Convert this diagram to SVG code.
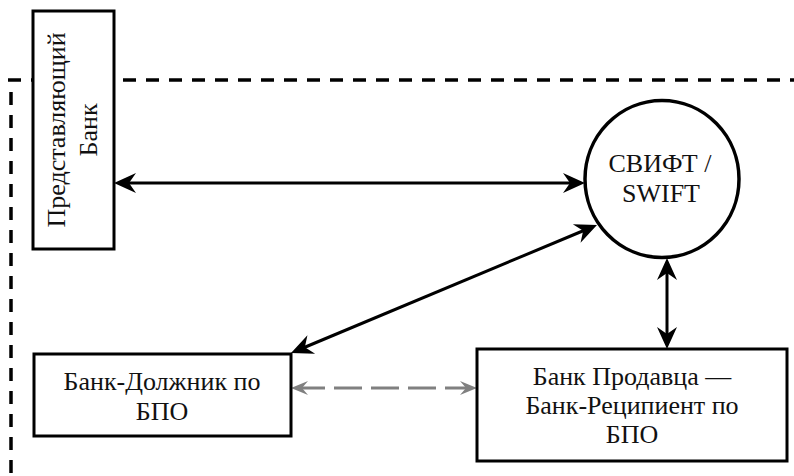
<svg xmlns="http://www.w3.org/2000/svg" width="794" height="476" viewBox="0 0 794 476">
<style>
.box{fill:#fff;stroke:#000;stroke-width:3}
.t{font-family:'Times New Roman',Tinos,'Liberation Serif','DejaVu Serif','Noto Serif',serif;font-size:26px;fill:#111;text-anchor:middle}
.frame{fill:none;stroke:#000;stroke-width:3.5;stroke-dasharray:13 10}
.conn{fill:none;stroke:#000;stroke-width:3}
.gconn{fill:none;stroke:#808080;stroke-width:3;stroke-dasharray:28 9;stroke-dashoffset:5}
</style>
<defs>
<marker id="ab" markerUnits="userSpaceOnUse" markerWidth="30" markerHeight="30" refX="-13" refY="0" orient="auto-start-reverse" overflow="visible">
<path d="M0,0 L-22,-10 L-15,0 L-22,10 Z" fill="#000"/>
</marker>
<marker id="ag" markerUnits="userSpaceOnUse" markerWidth="30" markerHeight="30" refX="-11" refY="0" orient="auto-start-reverse" overflow="visible">
<path d="M0,0 L-17,-7 L-11,0 L-17,7 Z" fill="#808080"/>
</marker>
</defs>
<g id="frame">
<path class="frame" d="M8 80 H794"/>
<path class="frame" d="M11 92 V476"/>
</g>
<g id="connectors">
<line class="conn" x1="127" y1="183" x2="572" y2="183" marker-start="url(#ab)" marker-end="url(#ab)"/>
<line class="conn" x1="303" y1="348" x2="585" y2="230" marker-start="url(#ab)" marker-end="url(#ab)"/>
<line class="conn" x1="667" y1="271" x2="667" y2="336" marker-start="url(#ab)" marker-end="url(#ab)"/>
<line class="gconn" x1="302" y1="388" x2="466" y2="388" marker-start="url(#ag)" marker-end="url(#ag)"/>
</g>
<g id="presenting-bank">
<rect class="box" x="33" y="11" width="81" height="238"/>
<g transform="translate(73,130) rotate(-90)">
<text class="t" x="0" y="-8">Представляющий</text>
<text class="t" x="0" y="24">Банк</text>
</g>
</g>
<g id="swift">
<ellipse cx="662" cy="179" rx="77" ry="78.5" fill="#fff" stroke="#000" stroke-width="3.5"/>
<text class="t" x="660" y="172">СВИФТ /</text>
<text class="t" x="661" y="202">SWIFT</text>
</g>
<g id="debtor-bank">
<rect class="box" x="34" y="354" width="257" height="82"/>
<text class="t" x="162" y="390">Банк-Должник по</text>
<text class="t" x="162" y="420">БПО</text>
</g>
<g id="seller-bank">
<rect class="box" x="477" y="349" width="310" height="112"/>
<text class="t" x="632" y="385">Банк Продавца —</text>
<text class="t" x="632" y="414">Банк-Реципиент по</text>
<text class="t" x="632" y="443">БПО</text>
</g>
</svg>
